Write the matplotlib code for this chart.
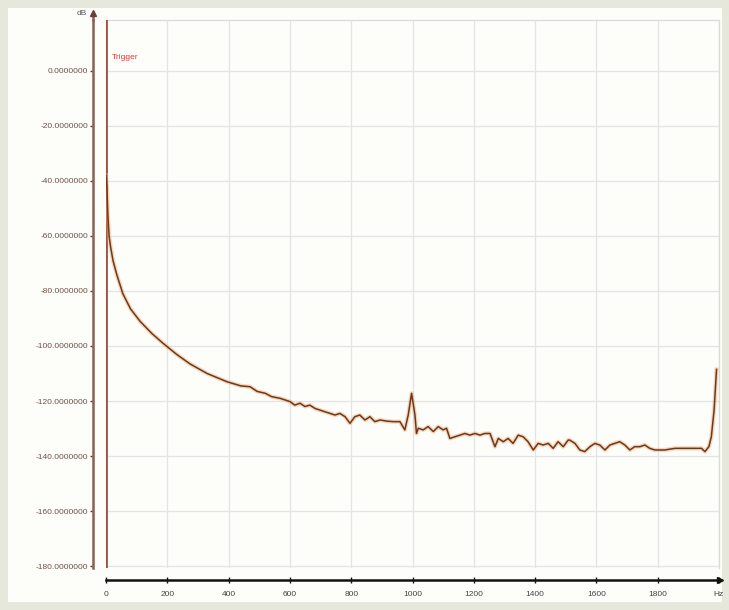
import matplotlib
matplotlib.use("Agg")
import matplotlib.pyplot as plt
import matplotlib.transforms as mtransforms
from matplotlib.patches import Rectangle

# spectrum (Hz, dB)
freq_hz = [0, 3, 6, 10, 15, 23, 35, 55, 80, 111, 150, 186, 230, 274, 330,
           395, 440, 470, 493, 520, 540, 567, 584, 600, 616, 633, 649, 665,
           682, 698, 714, 731, 747, 763, 780, 796, 812, 828, 845, 861, 877,
           894, 915, 937, 959, 975, 986, 997, 1008, 1013, 1019, 1035, 1051,
           1068, 1084, 1100, 1111, 1122, 1138, 1155, 1171, 1187, 1204, 1220,
           1236, 1253, 1269, 1280, 1296, 1312, 1328, 1345, 1361, 1377, 1394,
           1410, 1426, 1443, 1459, 1475, 1492, 1508, 1513, 1530, 1546, 1562,
           1579, 1595, 1611, 1628, 1644, 1660, 1676, 1693, 1709, 1725, 1742,
           1758, 1774, 1791, 1807, 1823, 1856, 1888, 1921, 1943, 1954, 1967,
           1975, 1984, 1992]
level_db = [-38, -42, -52, -60, -64, -69, -74, -81, -86.5, -91, -95.5, -99,
            -103, -106.5, -110, -113, -114.5, -114.8, -116.5, -117.2, -118.4,
            -119.0, -119.6, -120.2, -121.5, -120.8, -122, -121.5, -122.7,
            -123.3, -123.9, -124.5, -125.1, -124.5, -125.7, -128.1, -125.7,
            -125.1, -126.9, -125.7, -127.5, -126.9, -127.3, -127.5, -127.5,
            -130.5, -125.1, -117.2, -125.1, -131.8, -129.9, -130.5, -129.3,
            -131.1, -129.3, -130.5, -129.9, -133.6, -133.0, -132.4, -131.8,
            -132.4, -131.8, -132.4, -131.8, -131.8, -136.6, -133.6, -134.8,
            -133.6, -135.4, -132.4, -133.0, -134.8, -137.8, -135.4, -136.0,
            -135.4, -137.2, -134.8, -136.6, -134.2, -134.2, -135.4, -137.8,
            -138.4, -136.6, -135.4, -136.0, -137.8, -136.0, -135.4, -134.8,
            -136.0, -137.8, -136.6, -136.6, -136.0, -137.2, -137.8, -137.8,
            -137.8, -137.2, -137.2, -137.2, -137.2, -138.4, -136.6, -133.0,
            -123.3, -108.5]

y_ticks = [0, -20, -40, -60, -80, -100, -120, -140, -160, -180]
x_ticks = [0, 200, 400, 600, 800, 1000, 1200, 1400, 1600, 1800]

plt.rcParams['font.family'] = ['Liberation Sans', 'DejaVu Sans']

fig = plt.figure(figsize=(7.29, 6.10), dpi=100)
fig.patch.set_facecolor('#e5e8db')
fig.patches.append(Rectangle((8 / 729, 8 / 610), 714 / 729, 594 / 610,
                             transform=fig.transFigure, facecolor='#fdfdfa',
                             edgecolor='none', zorder=-5))

ax = fig.add_axes([106 / 729, 42 / 610, 613 / 729, 548 / 610])
ax.set_facecolor('none')
ax.set_xlim(0, 2000)
ax.set_ylim(-180.7, 18.5)

ax.grid(True, color='#e4e4e4', lw=0.9)
ax.set_axisbelow(True)

# trigger marker
ax.axvline(0, color='#9a5244', lw=2, zorder=3)
ax.text(20, 4.7, 'Trigger', color='#e8383a', fontsize=6, va='center', ha='left')

# spectrum curve
ax.plot(freq_hz, level_db, color='#f2a46a', lw=3, alpha=0.45, zorder=4)
ax.plot(freq_hz, level_db, color='#6a3a1e', lw=1.1, zorder=5)

# axes styling
for s in ['top', 'right']:
    ax.spines[s].set_color('#dadada')
    ax.spines[s].set_linewidth(0.9)

ax.spines['left'].set_position(('outward', 9.4))
ax.spines['left'].set_color('#8a6058')
ax.spines['left'].set_linewidth(1.8)
ax.spines['bottom'].set_position(('outward', 8.6))
ax.spines['bottom'].set_color('#111111')
ax.spines['bottom'].set_linewidth(1.8)

ax.set_yticks(y_ticks)
ax.set_yticklabels([f"{v:.7f}" for v in y_ticks])
ax.set_xticks(x_ticks + [2000])
ax.set_xticklabels([str(v) for v in x_ticks] + ['Hz'])
ax.tick_params(axis='y', length=2, width=1, color='#5a4038', pad=1.5,
               labelsize=6, labelcolor='#6b5248')
ax.tick_params(axis='x', direction='inout', length=4, width=1, color='#111111',
               pad=6, labelsize=6, labelcolor='#444444')

# arrow heads on axis lines
left_tr = ax.transAxes + mtransforms.ScaledTranslation(-13 / 100, 0, fig.dpi_scale_trans)
ax.plot([0, 0], [1, 1.012], color='#8a6058', lw=1.8, transform=left_tr, clip_on=False)
ax.plot(0, 1.012, marker='^', ms=5, color='#6a4038', transform=left_tr, clip_on=False)
ax.annotate('dB', xy=(0, 1.012), xycoords=left_tr, xytext=(-4, 0),
            textcoords='offset points', ha='right', va='center', fontsize=6,
            color='#555555')

bottom_tr = ax.transAxes + mtransforms.ScaledTranslation(0, -12 / 100, fig.dpi_scale_trans)
ax.plot(1.002, 0, marker='>', ms=5, color='#111111', transform=bottom_tr, clip_on=False)

fig.savefig('out.png', dpi=100, facecolor=fig.get_facecolor())
